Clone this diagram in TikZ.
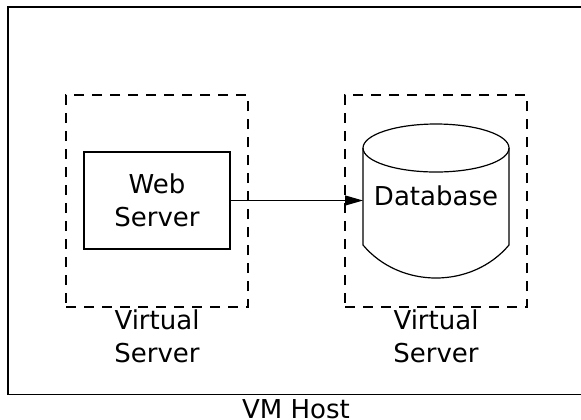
\documentclass[tikz,border=0pt]{standalone}
\usepackage{fontspec}
\setmainfont{DejaVu Sans}
\usetikzlibrary{positioning, arrows.meta}

\begin{document}
\begin{tikzpicture}[
  x=0.5pt, y=-0.5pt,
  every node/.style={font=\fontsize{13}{16.5}\selectfont, align=center, inner sep=0pt},
  hostbox/.style={draw, line width=0.8pt, minimum width=288pt, minimum height=193.8pt},
  vbox/.style={draw, line width=0.6pt, dash pattern=on 5pt off 4pt, minimum width=91pt, minimum height=106pt},
  srvbox/.style={draw, line width=0.6pt, minimum width=73pt, minimum height=48.5pt},
  arr/.style={line width=0.6pt, -{Triangle[length=9pt, width=5pt]}}
]
\useasboundingbox (0,0) rectangle (581,419);

% host and virtual servers
\node[hostbox] (host) at (296,200.8) {};
\node[below=2pt of host] (hostlbl) {VM Host};

\node[vbox] (vsweb) at (157,201) {};
\node[vbox] (vsdb) at (436,201) {};
\node[below=1pt of vsweb] (vsweblbl) {Virtual\\Server};
\node[below=1pt of vsdb] (vsdblbl) {Virtual\\Server};

% web server
\node[srvbox] (web) at (157,200.5) {Web\\Server};

% database cylinder
\draw[line width=0.6pt] (436,148) ellipse [x radius=36.5pt, y radius=12pt];
\draw[line width=0.6pt] (363,148) -- (363,245)
  .. controls (400,289) and (472,289) .. (509,245) -- (509,148);
\node (db) at (436,195.5) {Database};
\coordinate (dbin) at (363,200.5);

\draw[arr] (web.east) -- (dbin);
\end{tikzpicture}
\end{document}
